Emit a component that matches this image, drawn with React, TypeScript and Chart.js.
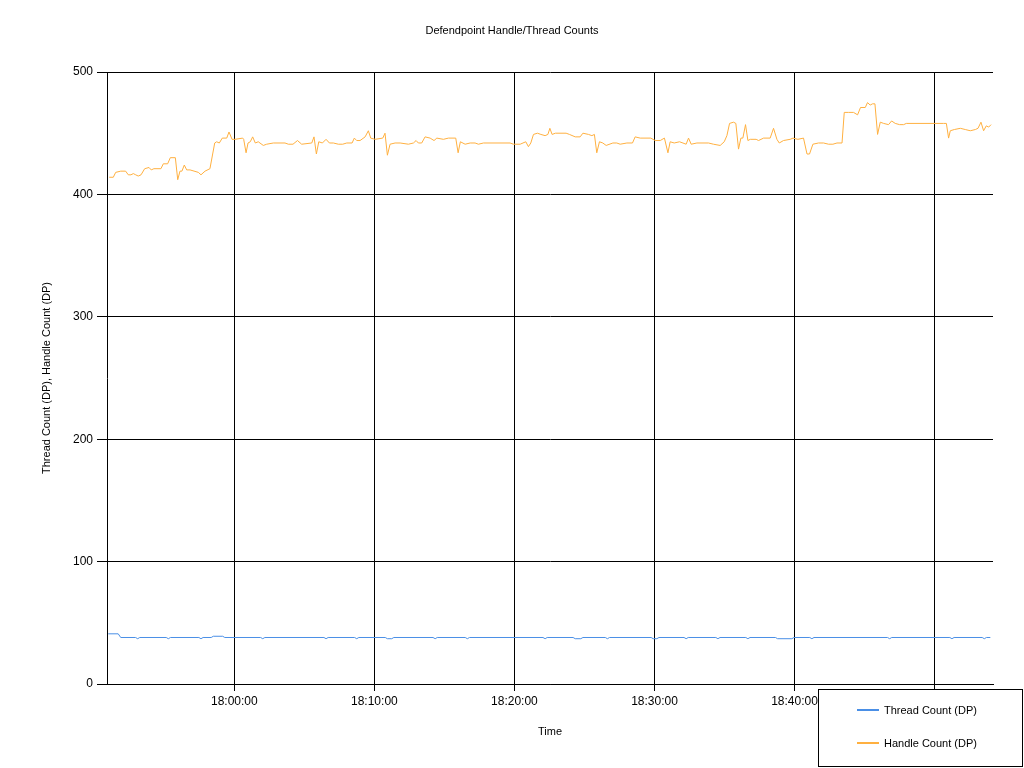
import { useEffect, useRef } from "react";
import { Chart, registerables } from "chart.js";

Chart.register(...registerables);

const chartTitle = "Defendpoint Handle/Thread Counts";
const xAxisTitle = "Time";
const yAxisTitle = "Thread Count (DP), Handle Count (DP)";
const seriesNames = ["Thread Count (DP)", "Handle Count (DP)"];
const seriesColors = ["#4a8fe6", "#ffb040"];

const yTickValues = [0, 100, 200, 300, 400, 500];
// minutes after 18:00:00
const xTickMinutes = [0, 10, 20, 30, 40, 50];
const xTickLabels = ["18:00:00", "18:10:00", "18:20:00", "18:30:00", "18:40:00", "18:50:00"];
const xMinMinutes = -9.09;
const xMaxMinutes = 54.17;

// Handle Count (DP): sample times (minutes after 18:00:00) and values
const handleMinutes = [
  -8.93, -8.64, -8.47, -8.11, -7.76, -7.57, -7.38, -7.21, -7.04, -6.86,
  -6.66, -6.4, -6.09, -5.93, -5.74, -5.24, -5.07, -4.76, -4.57, -4.21,
  -4.04, -3.88, -3.74, -3.57, -3.4, -3.16, -2.57, -2.38, -2.09, -1.74,
  -1.4, -1.26, -1.07, -0.86, -0.54, -0.38, -0.16, 0.05, 0.6, 0.67,
  0.84, 0.98, 1.14, 1.31, 1.5, 1.71, 2.07, 2.31, 2.79, 3.62,
  3.86, 4.19, 4.51, 4.81, 5.53, 5.69, 5.86, 6.03, 6.29, 6.55,
  6.79, 7.07, 7.43, 7.74, 8.03, 8.41, 8.57, 8.74, 8.98, 9.34,
  9.57, 9.74, 10.05, 10.6, 10.76, 10.93, 11.12, 11.48, 11.84, 12.43,
  12.79, 12.98, 13.14, 13.38, 13.62, 13.98, 14.26, 14.46, 14.93, 15.29,
  15.81, 15.98, 16.14, 16.48, 16.84, 17.19, 17.43, 17.79, 19.69, 19.93,
  20.41, 20.81, 21.0, 21.17, 21.36, 21.64, 21.89, 22.19, 22.39, 22.53,
  22.69, 22.93, 23.69, 23.93, 24.34, 24.69, 24.89, 25.29, 25.53, 25.71,
  25.88, 26.07, 26.31, 26.55, 27.03, 27.31, 27.55, 28.03, 28.43, 28.62,
  28.98, 29.74, 30.05, 30.41, 30.71, 30.96, 31.12, 31.41, 31.79, 32.26,
  32.43, 32.62, 33.03, 33.86, 34.21, 34.69, 34.98, 35.17, 35.36, 35.64,
  35.81, 36.0, 36.17, 36.31, 36.5, 36.67, 36.84, 37.26, 37.43, 37.79,
  38.26, 38.5, 38.74, 38.91, 39.21, 39.69, 39.89, 40.24, 40.64, 40.89,
  41.07, 41.31, 41.71, 42.07, 42.43, 42.74, 43.03, 43.39, 43.55, 43.86,
  44.21, 44.5, 44.71, 45.05, 45.21, 45.4, 45.57, 45.74, 45.93, 46.12,
  46.36, 46.71, 46.93, 47.19, 47.5, 47.79, 47.98, 50.64, 50.84, 51.0,
  51.12, 51.41, 51.84, 52.19, 52.55, 52.91, 53.1, 53.31, 53.5, 53.69,
  53.86, 54.03,
];
const handleValues = [
  414, 414, 418, 419, 419, 416, 416, 417, 416, 415,
  416, 421, 422, 420, 421, 421, 425, 425, 430, 430,
  412, 419, 419, 424, 420, 420, 418, 416, 419, 421,
  442, 443, 442, 446, 446, 451, 445, 445, 446, 445,
  434, 442, 443, 447, 442, 443, 440, 441, 442, 442,
  441, 441, 444, 441, 442, 447, 433, 443, 442, 445,
  442, 442, 441, 441, 442, 442, 446, 444, 444, 447,
  452, 446, 445, 446, 450, 432, 441, 442, 442, 441,
  442, 444, 442, 442, 447, 446, 444, 446, 445, 446,
  446, 434, 443, 441, 442, 442, 441, 442, 442, 441,
  441, 443, 439, 442, 449, 450, 449, 448, 449, 454,
  449, 450, 450, 449, 447, 447, 450, 449, 448, 449,
  434, 443, 442, 440, 442, 442, 441, 442, 442, 447,
  446, 446, 444, 444, 446, 434, 443, 442, 443, 441,
  446, 441, 442, 442, 441, 440, 443, 448, 458, 459,
  458, 437, 446, 446, 457, 444, 445, 445, 444, 446,
  446, 454, 445, 442, 444, 445, 446, 445, 446, 433,
  433, 441, 442, 442, 441, 441, 442, 442, 467, 467,
  467, 465, 471, 471, 475, 473, 474, 474, 449, 459,
  458, 457, 460, 458, 457, 457, 458, 458, 458, 446,
  452, 453, 454, 453, 452, 453, 454, 459, 452, 456,
  455, 457,
];

// Thread Count (DP): sample times (minutes after 18:00:00) and values
const threadMinutes = [
  -9.0, -8.29, -8.11,
  -7.05, -6.9, -6.75,
  -4.86, -4.71, -4.56,
  -2.53, -2.38, -2.23,
  -1.65, -1.5, -0.83, -0.68,
  1.88, 2.03, 2.18,
  6.4, 6.55, 6.7,
  8.59, 8.74, 8.89,
  10.78, 10.93, 11.24, 11.39,
  14.19, 14.34, 14.49,
  16.49, 16.64, 16.79,
  22.04, 22.19, 22.34,
  24.19, 24.34, 24.74, 24.89,
  26.49, 26.64, 26.79,
  29.76, 29.91, 30.17, 30.32,
  32.11, 32.26, 32.41,
  34.38, 34.53, 34.68,
  36.52, 36.67, 36.82,
  38.64, 38.79, 39.81, 39.96,
  41.09, 41.24, 41.39,
  46.64, 46.79, 46.94,
  51.09, 51.24, 51.39,
  53.4, 53.55, 53.7,
  53.98,
];
const threadValues = [
  41, 41, 38,
  38, 37, 38,
  38, 37, 38,
  38, 37, 38,
  38, 39, 39, 38,
  38, 37, 38,
  38, 37, 38,
  38, 37, 38,
  38, 37, 37, 38,
  38, 37, 38,
  38, 37, 38,
  38, 37, 38,
  38, 37, 37, 38,
  38, 37, 38,
  38, 37, 37, 38,
  38, 37, 38,
  38, 37, 38,
  38, 37, 38,
  38, 37, 37, 38,
  38, 37, 38,
  38, 37, 38,
  38, 37, 38,
  38, 37, 38,
  38,
];

const FONT = "'Liberation Sans', Arial, sans-serif";

const decorPlugin = {
  id: "decor",
  afterDraw(chart: any) {
    const ctx = chart.ctx as CanvasRenderingContext2D;
    ctx.save();
    // title
    ctx.fillStyle = "#000";
    ctx.font = `11px ${FONT}`;
    ctx.textAlign = "center";
    ctx.textBaseline = "middle";
    ctx.fillText(chartTitle, 512, 31);

    // legend box
    const bx = 818.5, by = 689.5, bw = 204, bh = 77;
    ctx.fillStyle = "#fff";
    ctx.fillRect(bx, by, bw, bh);
    ctx.strokeStyle = "#000";
    ctx.lineWidth = 1;
    ctx.strokeRect(bx, by, bw, bh);
    const rows = [710, 743];
    chart.data.datasets.forEach((ds: any, i: number) => {
      const y = rows[i];
      ctx.strokeStyle = ds.borderColor;
      ctx.lineWidth = 2;
      ctx.beginPath();
      ctx.moveTo(857, y);
      ctx.lineTo(879, y);
      ctx.stroke();
      ctx.fillStyle = "#000";
      ctx.font = `11px ${FONT}`;
      ctx.textAlign = "left";
      ctx.textBaseline = "middle";
      ctx.fillText(ds.label, 884, y + 1);
    });
    ctx.restore();
  },
};

export default function App() {
  const canvasRef = useRef<HTMLCanvasElement | null>(null);

  useEffect(() => {
    if (!canvasRef.current) return;
    const chart = new Chart(canvasRef.current, {
      type: "line",
      data: {
        datasets: [
          {
            label: seriesNames[0],
            data: threadMinutes.map((m, i) => ({ x: m, y: threadValues[i] })),
            borderColor: seriesColors[0],
            backgroundColor: seriesColors[0],
            borderWidth: 1,
            pointRadius: 0,
            tension: 0,
            fill: false,
          },
          {
            label: seriesNames[1],
            data: handleMinutes.map((m, i) => ({ x: m, y: handleValues[i] })),
            borderColor: seriesColors[1],
            backgroundColor: seriesColors[1],
            borderWidth: 1,
            pointRadius: 0,
            tension: 0,
            fill: false,
          },
        ],
      },
      options: {
        animation: false,
        responsive: false,
        devicePixelRatio: 1,
        layout: { padding: { top: 72, right: 31, bottom: 0, left: 0 } },
        plugins: {
          legend: { display: false },
          title: { display: false },
          tooltip: { enabled: false },
        },
        scales: {
          x: {
            type: "linear",
            min: xMinMinutes,
            max: xMaxMinutes,
            afterBuildTicks: (s: any) => {
              s.ticks = xTickMinutes.map((v) => ({ value: v }));
            },
            afterFit: (s: any) => {
              s.height = 84;
            },
            grid: { color: "#000", lineWidth: 1, tickLength: 7, drawTicks: true, tickColor: "#000" },
            border: { display: true, color: "#000", width: 1 },
            ticks: {
              color: "#000",
              font: { family: FONT, size: 12 },
              padding: 3,
              maxRotation: 0,
              autoSkip: false,
              callback: (_v: any, i: number) => xTickLabels[i],
            },
            title: {
              display: true,
              text: xAxisTitle,
              color: "#000",
              font: { family: FONT, size: 11 },
              padding: { top: 0, bottom: 29 },
            },
          },
          y: {
            type: "linear",
            min: 0,
            max: 500,
            afterBuildTicks: (s: any) => {
              s.ticks = yTickValues.map((v) => ({ value: v }));
            },
            afterFit: (s: any) => {
              s.width = 107;
            },
            grid: { color: "#000", lineWidth: 1, tickLength: 10, drawTicks: true, tickColor: "#000" },
            border: { display: true, color: "#000", width: 1 },
            ticks: {
              color: "#000",
              font: { family: FONT, size: 12 },
              padding: 4,
            },
            title: {
              display: true,
              text: yAxisTitle,
              color: "#000",
              font: { family: FONT, size: 11 },
              padding: { top: 40, bottom: 0 },
            },
          },
        },
      },
      plugins: [decorPlugin],
    } as any);
    return () => chart.destroy();
  }, []);

  return (
    <div style={{ position: "fixed", left: 0, top: 0, width: 1024, height: 768, background: "#fff" }}>
      <canvas ref={canvasRef} width={1024} height={768} style={{ display: "block" }} />
    </div>
  );
}
